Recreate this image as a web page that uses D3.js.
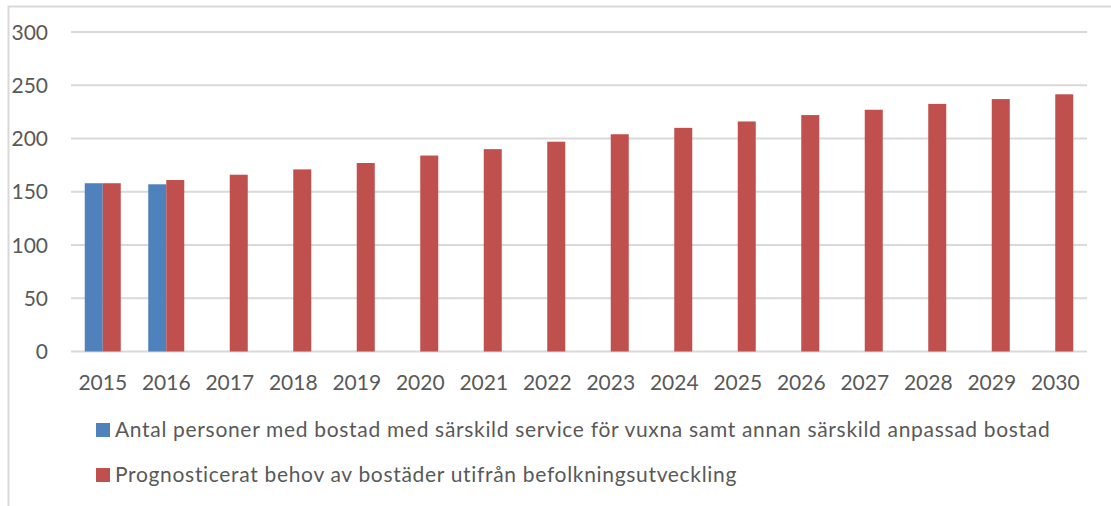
<!DOCTYPE html>
<html lang="sv">
<head>
    <meta charset="UTF-8">
    <title>Bostad med särskild service</title>
    <script src="https://cdn.jsdelivr.net/npm/d3@7"></script>
    <style>
        body {
            margin: 0;
            background: #fff;
            font-family: 'Lato', sans-serif;
        }
        text {
            fill: #595959;
        }
    </style>
</head>
<body>
    <svg id="chart"></svg>

    <script>
        // Data
        const years = ["2015", "2016", "2017", "2018", "2019", "2020", "2021", "2022",
                       "2023", "2024", "2025", "2026", "2027", "2028", "2029", "2030"];
        const antalPersoner = [158, 157, null, null, null, null, null, null,
                               null, null, null, null, null, null, null, null];
        const prognos = [158, 161, 166, 171, 177, 184, 190, 197,
                         204, 210, 216, 222, 227, 232.5, 237, 241.5];
        const seriesNames = [
            "Antal personer med bostad med särskild service för vuxna samt annan särskild anpassad bostad",
            "Prognosticerat behov av bostäder utifrån befolkningsutveckling"
        ];
        const seriesColors = ["#4F81BD", "#C0504D"];
        const yTicks = [0, 50, 100, 150, 200, 250, 300];

        const width = 1111, height = 506;
        const plot = { left: 71, right: 1087, top: 32, bottom: 351.5 };

        const svg = d3.select("#chart")
            .attr("width", width)
            .attr("height", height);

        // outer frame (only top and left visible)
        svg.append("path")
            .attr("d", `M8.5,${height} V6.5 H${width}`)
            .attr("fill", "none")
            .attr("stroke", "#D9D9D9")
            .attr("stroke-width", 2);

        const x0 = d3.scaleBand()
            .domain(years)
            .range([plot.left, plot.right])
            .paddingInner(0.433)
            .paddingOuter(0.2165);

        const x1 = d3.scaleBand()
            .domain([0, 1])
            .range([0, x0.bandwidth()]);

        const y = d3.scaleLinear()
            .domain([0, 300])
            .range([plot.bottom, plot.top]);

        // gridlines
        svg.append("g")
            .selectAll("line")
            .data(yTicks)
            .enter().append("line")
            .attr("x1", plot.left)
            .attr("x2", plot.right)
            .attr("y1", d => y(d))
            .attr("y2", d => y(d))
            .attr("stroke", "#D9D9D9")
            .attr("stroke-width", 2);

        // y labels
        svg.append("g")
            .selectAll("text")
            .data(yTicks)
            .enter().append("text")
            .attr("x", 48)
            .attr("y", d => y(d))
            .attr("dy", "0.36em")
            .attr("text-anchor", "end")
            .style("font-size", "21px")
            .text(d => d);

        // bars
        const rows = years.map((yr, i) => ({ year: yr, values: [antalPersoner[i], prognos[i]] }));

        const groups = svg.append("g")
            .selectAll("g")
            .data(rows)
            .enter().append("g")
            .attr("transform", d => `translate(${x0(d.year)},0)`);

        groups.selectAll("rect")
            .data(d => d.values.map((v, k) => ({ k, v })).filter(e => e.v != null))
            .enter().append("rect")
            .attr("x", d => x1(d.k))
            .attr("width", x1.bandwidth())
            .attr("y", d => y(d.v))
            .attr("height", d => y(0) - y(d.v))
            .attr("fill", d => seriesColors[d.k]);

        // x labels
        svg.append("g")
            .selectAll("text")
            .data(years)
            .enter().append("text")
            .attr("x", d => x0(d) + x0.bandwidth() / 2)
            .attr("y", 390)
            .attr("text-anchor", "middle")
            .style("font-size", "21px")
            .text(d => d);

        // legend
        const legend = svg.append("g")
            .selectAll("g")
            .data(seriesNames)
            .enter().append("g")
            .attr("transform", (d, i) => `translate(96,${423 + i * 45})`);

        legend.append("rect")
            .attr("width", 14)
            .attr("height", 14)
            .attr("fill", (d, i) => seriesColors[i]);

        legend.append("text")
            .attr("x", 19)
            .attr("y", 13.5)
            .style("font-size", "21px")
            .style("letter-spacing", "0.68px")
            .text(d => d);
    </script>
</body>
</html>
